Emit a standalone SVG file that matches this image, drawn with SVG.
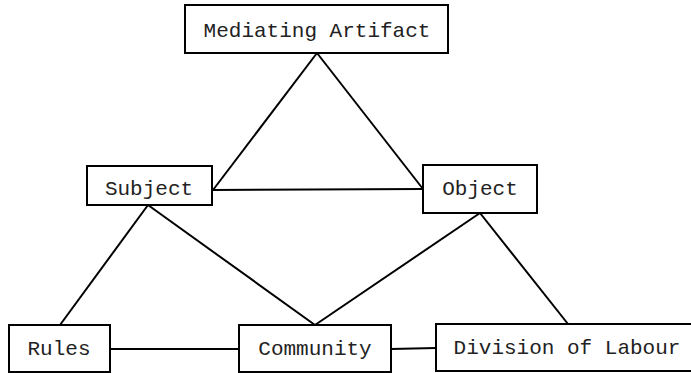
<svg xmlns="http://www.w3.org/2000/svg" width="691" height="373" viewBox="0 0 691 373">
<style>
.box{fill:#fff;stroke:#000;stroke-width:2}
.lbl{font-family:"Liberation Mono","Courier New",monospace;font-size:21px;fill:#222;text-anchor:middle}
.edge{stroke:#000;stroke-width:2;fill:none}
</style>
<rect width="691" height="373" fill="#fff"/>
<g id="connectors">
<line class="edge" x1="317" y1="53" x2="213" y2="190"/>
<line class="edge" x1="317" y1="53" x2="423" y2="189"/>
<line class="edge" x1="212" y1="190" x2="423" y2="189"/>
<line class="edge" x1="148" y1="205" x2="60" y2="325"/>
<line class="edge" x1="148" y1="205" x2="315" y2="325"/>
<line class="edge" x1="480" y1="213" x2="315" y2="325"/>
<line class="edge" x1="480" y1="213" x2="568" y2="324"/>
<line class="edge" x1="110" y1="349" x2="239" y2="349"/>
<line class="edge" x1="391" y1="349" x2="436" y2="348"/>
</g>
<g id="mediating-artifact">
<rect class="box" x="185" y="5" width="263" height="48"/>
<text class="lbl" x="317" y="37">Mediating Artifact</text>
</g>
<g id="subject">
<rect class="box" x="87" y="166" width="125" height="39"/>
<text class="lbl" x="149" y="195">Subject</text>
</g>
<g id="object">
<rect class="box" x="423" y="165" width="114" height="48"/>
<text class="lbl" x="480" y="195">Object</text>
</g>
<g id="rules">
<rect class="box" x="9" y="325" width="101" height="47"/>
<text class="lbl" x="59" y="355">Rules</text>
</g>
<g id="community">
<rect class="box" x="239" y="325" width="152" height="47"/>
<text class="lbl" x="315" y="355">Community</text>
</g>
<g id="division-of-labour">
<rect class="box" x="436" y="324" width="262" height="47"/>
<text class="lbl" x="567" y="354">Division of Labour</text>
</g>
</svg>
